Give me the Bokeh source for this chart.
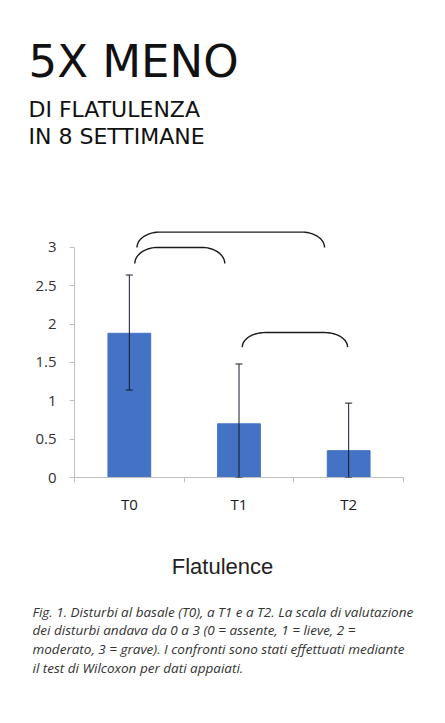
import numpy as np
from bokeh.plotting import figure
from bokeh.models import (Range1d, FixedTicker, Whisker, TeeHead, ColumnDataSource, Title,
                          LinearAxis)
from bokeh.embed import file_html
from bokeh.resources import INLINE

# ---- data ----
categories = ["T0", "T1", "T2"]
means = [1.88, 0.70, 0.35]
err_upper = [2.64, 1.48, 0.97]
err_lower = [1.14, 0.0, 0.0]
y_ticks = [0, 0.5, 1, 1.5, 2, 2.5, 3]
y_tick_labels = ["0", "0.5", "1", "1.5", "2", "2.5", "3"]
# significance brackets (in category units along x, values along y)
br_left = [0.55, 0.57, 1.53]
br_right = [1.37, 2.28, 2.49]
br_top = [3.00, 3.20, 1.89]
br_end = [2.79, 3.00, 1.70]

title = "5X MENO"
subtitle = ["DI FLATULENZA", "IN 8 SETTIMANE"]
chart_title = "Flatulence"
chart_title_pos = 1.35
caption = [
    "Fig. 1. Disturbi al basale (T0), a T1 e a T2. La scala di valutazione",
    "dei disturbi andava da 0 a 3 (0 = assente, 1 = lieve, 2 =",
    "moderato, 3 = grave). I confronti sono stati effettuati mediante",
    "il test di Wilcoxon per dati appaiati.",
]

W, H = 445, 723
p = figure(width=W, height=H, output_backend="svg", toolbar_location=None,
           x_range=Range1d(0, 3), y_range=Range1d(0, 4.29),
           min_border_left=74, min_border_right=42, min_border_top=148,
           min_border_bottom=246)
p.title.text = ""
p.outline_line_color = None
p.grid.grid_line_color = None
p.background_fill_color = "white"
p.border_fill_color = "white"

xc = [i + 0.5 for i in range(len(categories))]
src = ColumnDataSource(dict(x=xc, top=means, upper=err_upper, lower=err_lower))
p.vbar(x="x", top="top", width=0.39, source=src, fill_color="#4472C4",
       line_color="#4472C4")

wh = Whisker(base="x", upper="upper", lower="lower", source=src, level="overlay",
             line_color="#15192b", line_width=1,
             upper_head=TeeHead(size=7, line_color="#15192b", line_width=1),
             lower_head=TeeHead(size=7, line_color="#15192b", line_width=1))
p.add_layout(wh)

# brackets
xs, ys = [], []
rx = 0.21
t = np.linspace(0, np.pi / 2, 20)
for l, r, top, end in zip(br_left, br_right, br_top, br_end):
    ry = top - end
    lx = l + rx - rx * np.cos(t)
    ly = end + ry * np.sin(t)
    rxs = r - rx + rx * np.cos(t[::-1])
    rys = end + ry * np.sin(t[::-1])
    xs.append(list(lx) + list(rxs))
    ys.append(list(ly) + list(rys))
p.multi_line(xs=xs, ys=ys, line_color="#1a1a1a", line_width=1.4)

ya = p.yaxis[0]
ya.ticker = FixedTicker(ticks=y_ticks)
ya.major_label_overrides = {v: s for v, s in zip(y_ticks, y_tick_labels)}
ya.bounds = (0, 3)
ya.axis_line_color = "#bfbfbf"
ya.major_tick_line_color = "#bfbfbf"
ya.major_tick_out = 5
ya.major_tick_in = 0
ya.minor_tick_line_color = None
ya.major_label_standoff = 13
ya.major_label_text_font = "Open Sans"
ya.major_label_text_font_size = "15px"
ya.major_label_text_color = "#333333"

xa = p.xaxis[0]
xa.ticker = FixedTicker(ticks=xc, minor_ticks=[0, 1, 2, 3])
xa.major_label_overrides = {v: s for v, s in zip(xc, categories)}
xa.axis_line_color = "#bfbfbf"
xa.major_tick_line_color = None
xa.major_tick_out = 0
xa.major_tick_in = 0
xa.minor_tick_line_color = "#bfbfbf"
xa.minor_tick_out = 5
xa.minor_tick_in = 0
xa.major_label_standoff = 11
xa.major_label_text_font = "Open Sans"
xa.major_label_text_font_size = "15px"
xa.major_label_text_color = "#1a1a1a"

# chart title as a label-only axis below the category axis
ta = LinearAxis(ticker=FixedTicker(ticks=[chart_title_pos], minor_ticks=[]),
                major_label_overrides={chart_title_pos: chart_title})
ta.axis_line_color = None
ta.major_tick_line_color = None
ta.minor_tick_line_color = None
ta.major_tick_out = 0
ta.major_tick_in = 0
ta.major_label_standoff = 37
ta.major_label_text_font = "Liberation Sans"
ta.major_label_text_font_size = "22px"
ta.major_label_text_color = "#222222"
p.add_layout(ta, "below")

# ---- header titles (closest to the plot first) ----
p.add_layout(Title(text=subtitle[1], align="left", offset=-46, standoff=0,
                   text_font="DejaVu Sans", text_font_size="22px",
                   text_font_style="normal", text_color="#111111"), "above")
p.add_layout(Title(text=subtitle[0], align="left", offset=-46, standoff=0,
                   text_font="DejaVu Sans", text_font_size="22px",
                   text_font_style="normal", text_color="#111111"), "above")
p.add_layout(Title(text=title, align="left", offset=-46, standoff=14,
                   text_font="DejaVu Sans", text_font_size="45px",
                   text_font_style="normal", text_color="#111111"), "above")

# ---- caption (one multi-line title) ----
p.add_layout(Title(text="\n".join(caption), align="left", offset=-42,
                   standoff=42, vertical_align="top", text_line_height=1.04,
                   text_font="Open Sans", text_font_size="13.5px",
                   text_font_style="italic", text_color="#333333"), "below")

open("out.html", "w").write(file_html(p, INLINE))
